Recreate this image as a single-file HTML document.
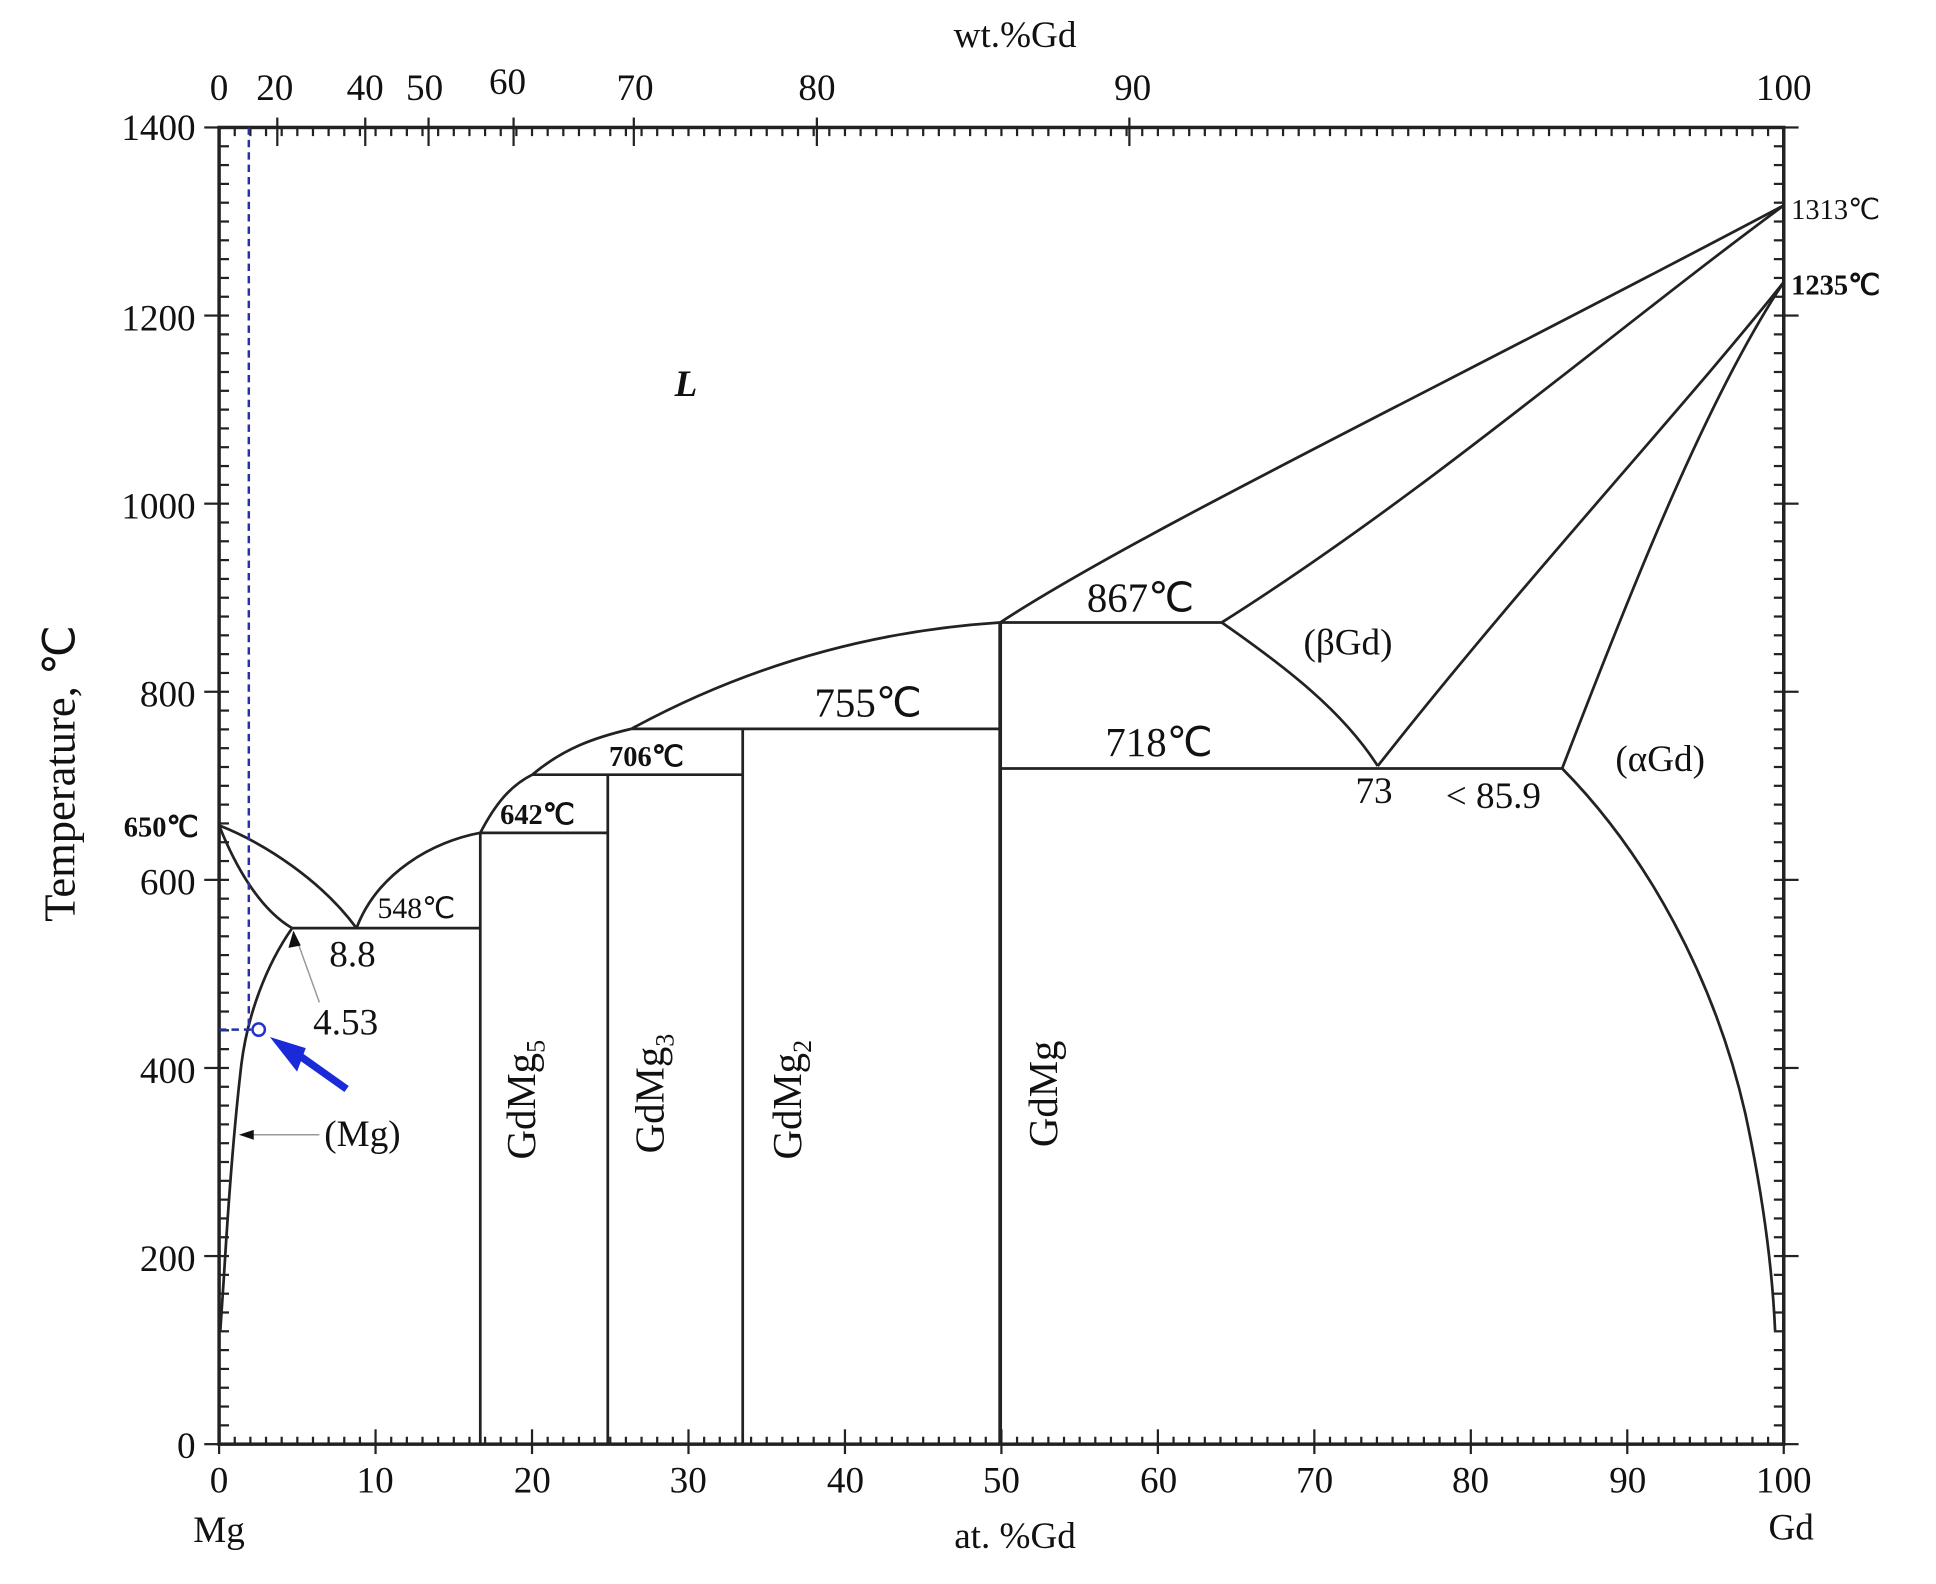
<!DOCTYPE html>
<html><head><meta charset="utf-8"><style>
html,body{margin:0;padding:0;background:#fff;}
svg{display:block;}
text{font-family:"Liberation Serif",serif;fill:#111;}
</style></head><body>
<svg id="s" width="1936" height="1584" viewBox="0 0 1564 1280" preserveAspectRatio="none" xmlns="http://www.w3.org/2000/svg">
<rect width="1564" height="1280" fill="#fff"/>
<g id="ticks" stroke="#222" stroke-width="1.8"></g>
<rect x="177" y="103" width="1264" height="1064" fill="none" stroke="#222" stroke-width="2.8"/>
<g fill="none" stroke="#222" stroke-width="2.2">
<path d="M177,667 C215,682 260,712 288,750"/>
<path d="M177,667 C190,700 210,735 236,750"/>
<path d="M236,750 C215,780 200,820 195,860 C188,920 184,980 181,1030 L178,1075"/>
<path d="M236,750 H388"/>
<path d="M288,750 C305,705 350,680 388,673"/>
<path d="M388,673 C400,650 412,635 430,626 C455,605 480,596 510,589"/>
<path d="M388,673 H491"/>
<path d="M430,626 H600"/>
<path d="M510,589 H808"/>
<path d="M510,589 C600,540 700,510 808,503"/>
<path d="M388,673 V1167 M491,626 V1167 M600,589 V1167"/>
<path d="M808,503 V1167" stroke-width="3"/>
<path d="M808,503 H987 M808,621 H1262"/>
<path d="M808,503 C920,430 1150,320 1441,166"/>
<path d="M987,503 C1150,400 1300,270 1441,166"/>
<path d="M987,503 C1040,540 1085,575 1113,619"/>
<path d="M1113,619 C1230,470 1360,330 1441,228"/>
<path d="M1262,621 C1320,470 1380,320 1441,228"/>
<path d="M1262,621 C1330,690 1385,790 1410,900 C1425,970 1432,1030 1434,1075"/>
</g>
<g stroke="#999" stroke-width="1.2" fill="none">
<path d="M258,810 L240,760"/><path d="M258,917 L200,917"/>
</g>
<path d="M237,752 L233,766 L243,764 Z" fill="#111"/>
<path d="M193,917 L205,913 L205,921 Z" fill="#111"/>
<g stroke="#2233aa" stroke-width="2" stroke-dasharray="6,4" fill="none">
<path d="M201,103 V833"/><path d="M177,832 H205"/>
</g>
<circle cx="209" cy="832" r="5" fill="none" stroke="#2233cc" stroke-width="2"/>
<path d="M280,880 L232,846" stroke="#1a2ad8" stroke-width="6"/>
<path d="M218,838 L240,866 L247,847 Z" fill="#1a2ad8"/>
<g font-size="30">
<text x="158" y="113" text-anchor="end">1400</text>
<text x="158" y="267" text-anchor="end">1200</text>
<text x="158" y="419" text-anchor="end">1000</text>
<text x="158" y="571" text-anchor="end">800</text>
<text x="158" y="723" text-anchor="end">600</text>
<text x="158" y="875" text-anchor="end">400</text>
<text x="158" y="1027" text-anchor="end">200</text>
<text x="158" y="1178" text-anchor="end">0</text>
</g>
<g font-size="30" text-anchor="middle">
<text x="177" y="1206">0</text><text x="303" y="1206">10</text><text x="430" y="1206">20</text><text x="556" y="1206">30</text><text x="683" y="1206">40</text><text x="809" y="1206">50</text><text x="936" y="1206">60</text><text x="1062" y="1206">70</text><text x="1188" y="1206">80</text><text x="1315" y="1206">90</text><text x="1441" y="1206">100</text>
<text x="177" y="1246">Mg</text><text x="820" y="1251">at. %Gd</text><text x="1447" y="1244">Gd</text>
<text x="177" y="81">0</text><text x="222" y="81">20</text><text x="295" y="81">40</text><text x="343" y="81">50</text><text x="410" y="76">60</text><text x="513" y="81">70</text><text x="660" y="81">80</text><text x="915" y="81">90</text><text x="1441" y="81">100</text>
<text x="820" y="38">wt.%Gd</text>
</g>
<text transform="translate(60,625) rotate(-90)" font-size="36" text-anchor="middle">Temperature, ℃</text>
<text x="545" y="320" font-size="30" font-style="italic" font-weight="bold">L</text>
<text x="1447" y="177" font-size="23">1313℃</text>
<text x="1447" y="238" font-size="23" font-weight="bold">1235℃</text>
<text x="100" y="676" font-size="23" font-weight="bold">650℃</text>
<text x="305" y="742" font-size="24">548℃</text>
<text x="266" y="781" font-size="30">8.8</text>
<text x="253" y="836" font-size="30">4.53</text>
<text x="262" y="926" font-size="30">(Mg)</text>
<text x="404" y="666" font-size="23" font-weight="bold">642℃</text>
<text x="492" y="619" font-size="23" font-weight="bold">706℃</text>
<text x="658" y="579" font-size="33">755℃</text>
<text x="878" y="494" font-size="33">867℃</text>
<text x="893" y="611" font-size="33">718℃</text>
<text x="1053" y="529" font-size="30">(βGd)</text>
<text x="1305" y="623" font-size="30">(αGd)</text>
<text x="1095" y="649" font-size="30">73</text>
<text x="1168" y="653" font-size="30">&lt; 85.9</text>
<text transform="translate(432,937) rotate(-90)" font-size="33">GdMg<tspan font-size="21" dy="8">5</tspan></text>
<text transform="translate(536,932) rotate(-90)" font-size="33">GdMg<tspan font-size="21" dy="8">3</tspan></text>
<text transform="translate(647,937) rotate(-90)" font-size="33">GdMg<tspan font-size="21" dy="8">2</tspan></text>
<text transform="translate(854,927) rotate(-90)" font-size="33">GdMg</text>
</svg>
<script>
var g=document.getElementById('ticks'),h='';
function L(a,b,c,d){h+='<line x1="'+a+'" y1="'+b+'" x2="'+c+'" y2="'+d+'"/>';}
for(var i=0;i<=100;i++){var x=177+12.64*i,m=i%10==0;L(x,1167,x,1167-(m?12:6));if(m)L(x,1167,x,1175);}
for(var t=0;t<=1400;t+=20){var y=1167-0.76*t,m=t%200==0;L(177,y,185,y);L(1441,y,1433,y);if(m){L(177,y,165,y);L(1441,y,1453,y);}}
for(var i=0;i<=100;i++){var x=177+12.64*i;L(x,103,x,110);}
function at(w){var a=w/157.25,b=(100-w)/24.305;return 100*a/(a+b);}
[20,40,50,60,70,80,90].forEach(function(w){var x=177+12.64*at(w);L(x,95,x,118);});
g.innerHTML=h;
</script>
</body></html>
